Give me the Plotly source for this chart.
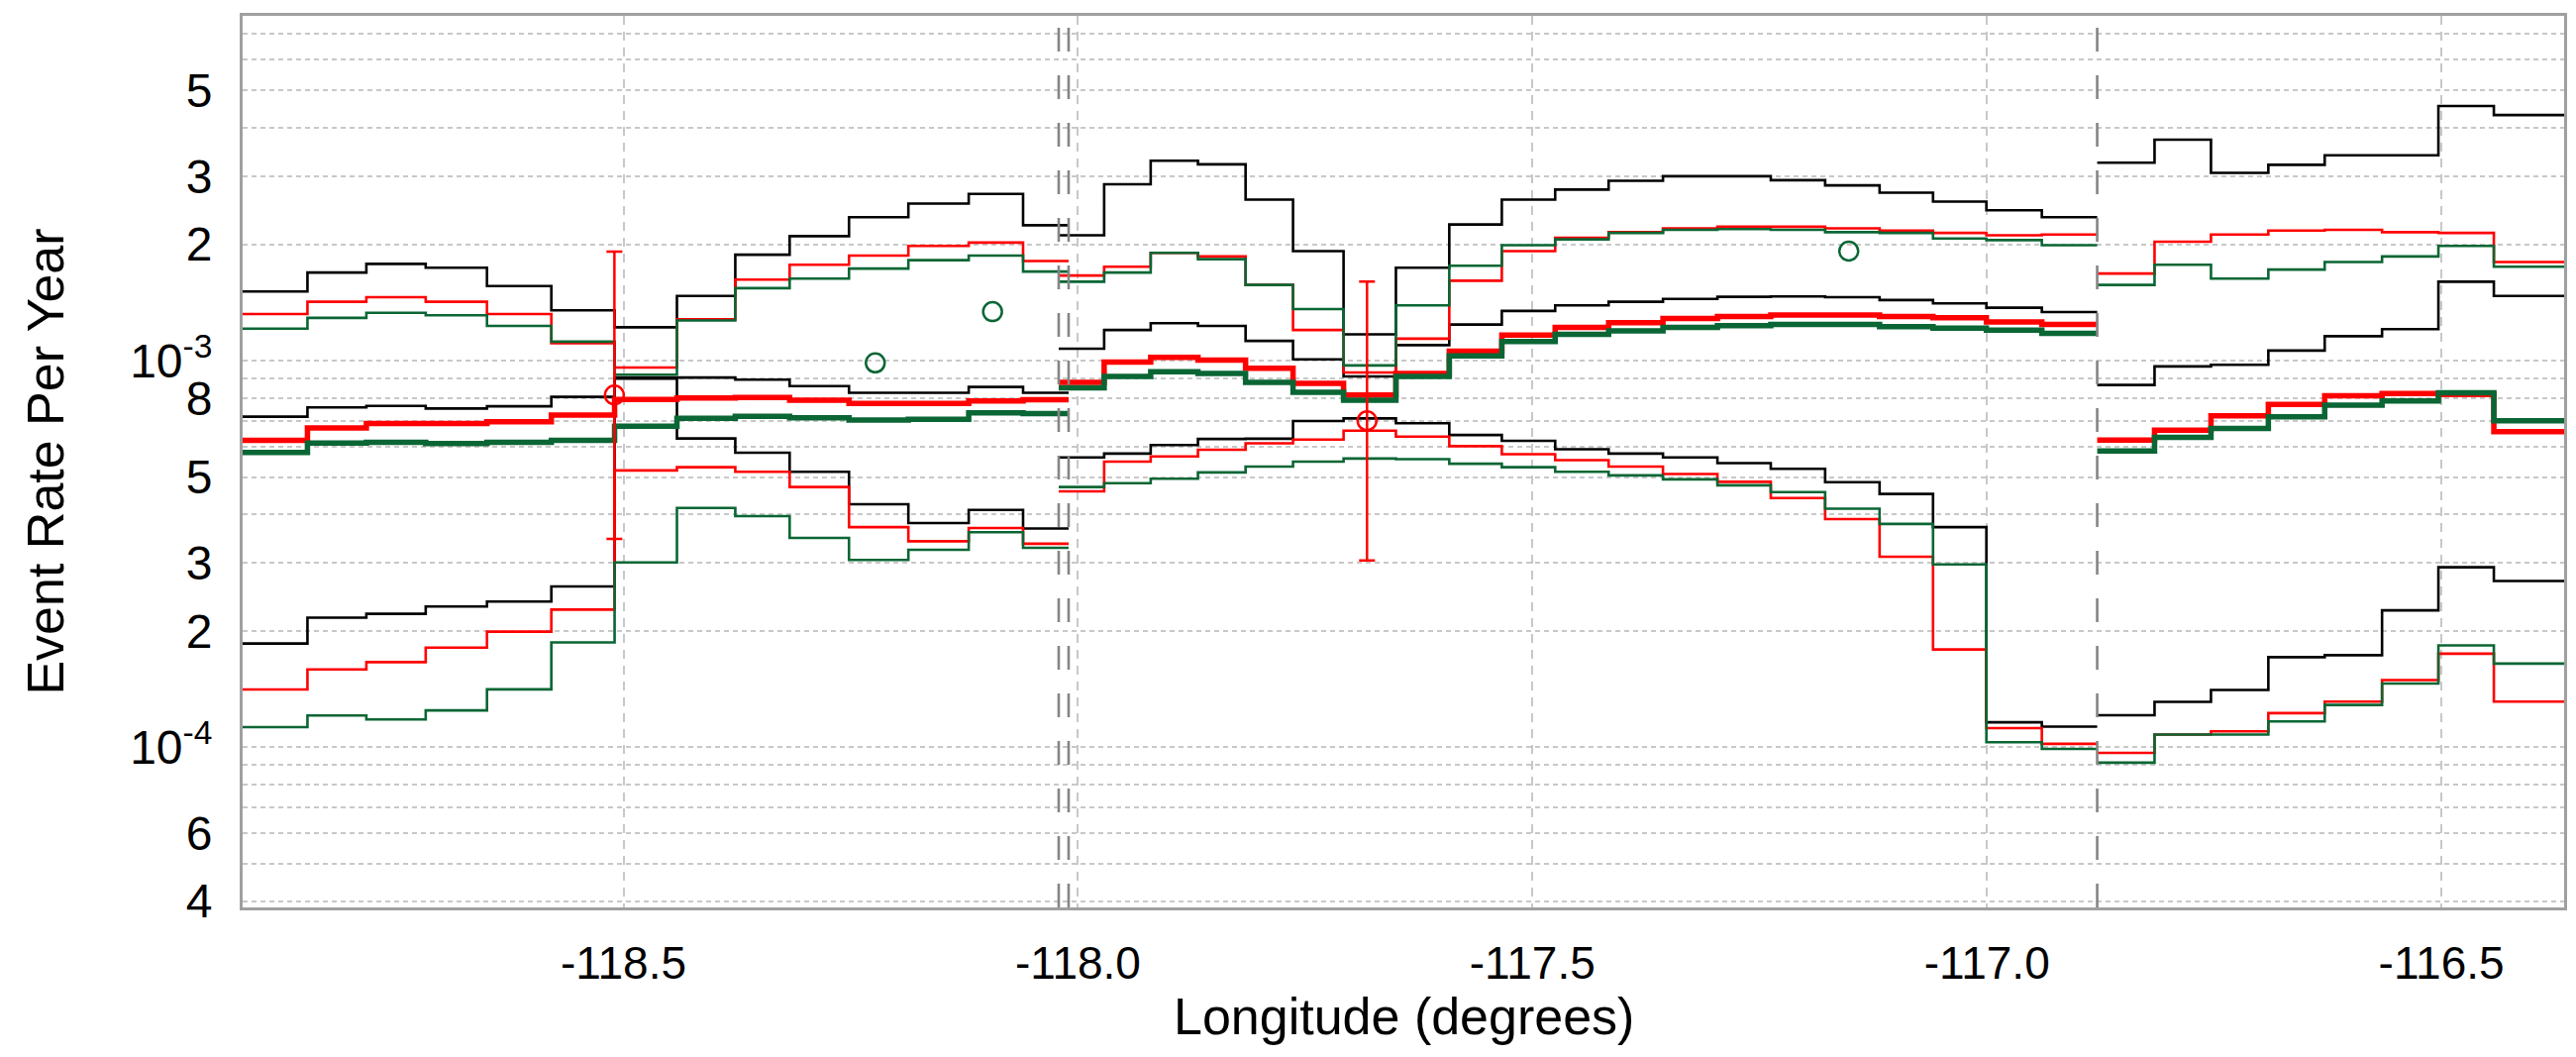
import plotly.graph_objects as go

# ---------------- data ----------------
# bin edges (longitude, degrees) for the three profile segments
seg1_edges = [-118.93, -118.8477, -118.7829, -118.7176, -118.6502, -118.5794, -118.5098,
              -118.4412, -118.3770, -118.3172, -118.2519, -118.1866, -118.1202, -118.0604, -118.0103]
seg2_edges = [-118.0212, -117.9712, -117.9200, -117.8680, -117.8156, -117.7634, -117.7078,
              -117.6502, -117.5915, -117.5337, -117.4750, -117.4162, -117.3564, -117.2965,
              -117.2378, -117.1780, -117.1181, -117.0593, -117.0006, -116.9396, -116.8787]
seg3_edges = [-116.8787, -116.8156, -116.7535, -116.6904, -116.6284, -116.5653, -116.5033,
              -116.4423, -116.35]

# segment 1 (rates per year)
s1_black_hi = [1.51e-3, 1.69e-3, 1.78e-3, 1.74e-3, 1.56e-3, 1.35e-3, 1.22e-3, 1.47e-3, 1.88e-3, 2.10e-3, 2.35e-3, 2.55e-3, 2.70e-3, 2.24e-3]
s1_red_hi   = [1.32e-3, 1.42e-3, 1.46e-3, 1.42e-3, 1.32e-3, 1.11e-3, 0.96e-3, 1.28e-3, 1.62e-3, 1.77e-3, 1.87e-3, 1.98e-3, 2.02e-3, 1.81e-3]
s1_green_hi = [1.21e-3, 1.29e-3, 1.33e-3, 1.31e-3, 1.23e-3, 1.12e-3, 0.92e-3, 1.27e-3, 1.54e-3, 1.63e-3, 1.73e-3, 1.82e-3, 1.87e-3, 1.70e-3]
s1_black_mid = [0.716e-3, 0.757e-3, 0.764e-3, 0.752e-3, 0.762e-3, 0.806e-3, 0.904e-3, 0.904e-3, 0.893e-3, 0.859e-3, 0.826e-3, 0.826e-3, 0.855e-3, 0.826e-3]
s1_red_mid   = [0.622e-3, 0.670e-3, 0.688e-3, 0.688e-3, 0.695e-3, 0.723e-3, 0.793e-3, 0.801e-3, 0.803e-3, 0.790e-3, 0.775e-3, 0.775e-3, 0.787e-3, 0.792e-3]
s1_green_mid = [0.579e-3, 0.612e-3, 0.615e-3, 0.610e-3, 0.615e-3, 0.622e-3, 0.677e-3, 0.709e-3, 0.718e-3, 0.711e-3, 0.702e-3, 0.705e-3, 0.733e-3, 0.730e-3]
s1_black_lo = [1.854e-4, 2.163e-4, 2.213e-4, 2.312e-4, 2.382e-4, 2.606e-4, 8.99e-4, 6.29e-4, 5.78e-4, 5.16e-4, 4.25e-4, 3.80e-4, 4.11e-4, 3.68e-4]
s1_red_lo   = [1.41e-4, 1.59e-4, 1.66e-4, 1.81e-4, 1.99e-4, 2.27e-4, 5.20e-4, 5.30e-4, 5.16e-4, 4.71e-4, 3.71e-4, 3.41e-4, 3.69e-4, 3.36e-4]
s1_green_lo = [1.127e-4, 1.208e-4, 1.180e-4, 1.245e-4, 1.411e-4, 1.866e-4, 3.006e-4, 4.16e-4, 3.96e-4, 3.48e-4, 3.05e-4, 3.24e-4, 3.60e-4, 3.28e-4]

# segment 2
s2_black_hi = [2.11e-3, 2.86e-3, 3.29e-3, 3.22e-3, 2.61e-3, 1.92e-3, 1.17e-3, 1.74e-3, 2.25e-3, 2.61e-3, 2.77e-3, 2.92e-3, 3.00e-3, 3.00e-3, 2.93e-3, 2.84e-3, 2.72e-3, 2.58e-3, 2.45e-3, 2.35e-3]
s2_red_hi   = [1.66e-3, 1.75e-3, 1.90e-3, 1.86e-3, 1.57e-3, 1.20e-3, 0.932e-3, 1.14e-3, 1.61e-3, 1.92e-3, 2.08e-3, 2.15e-3, 2.20e-3, 2.22e-3, 2.22e-3, 2.20e-3, 2.17e-3, 2.14e-3, 2.11e-3, 2.12e-3]
s2_green_hi = [1.60e-3, 1.69e-3, 1.90e-3, 1.83e-3, 1.57e-3, 1.36e-3, 0.972e-3, 1.39e-3, 1.76e-3, 1.99e-3, 2.06e-3, 2.14e-3, 2.18e-3, 2.19e-3, 2.18e-3, 2.15e-3, 2.14e-3, 2.07e-3, 2.05e-3, 1.99e-3]
s2_black_mid = [1.074e-3, 1.20e-3, 1.25e-3, 1.23e-3, 1.125e-3, 1.008e-3, 0.910e-3, 1.097e-3, 1.24e-3, 1.345e-3, 1.39e-3, 1.42e-3, 1.445e-3, 1.463e-3, 1.466e-3, 1.46e-3, 1.435e-3, 1.406e-3, 1.371e-3, 1.336e-3]
s2_red_mid   = [0.878e-3, 0.991e-3, 1.019e-3, 1.003e-3, 0.956e-3, 0.874e-3, 0.815e-3, 0.926e-3, 1.058e-3, 1.164e-3, 1.219e-3, 1.253e-3, 1.286e-3, 1.300e-3, 1.312e-3, 1.312e-3, 1.300e-3, 1.291e-3, 1.259e-3, 1.241e-3]
s2_green_mid = [0.851e-3, 0.910e-3, 0.936e-3, 0.926e-3, 0.878e-3, 0.828e-3, 0.790e-3, 0.910e-3, 1.029e-3, 1.120e-3, 1.169e-3, 1.194e-3, 1.219e-3, 1.232e-3, 1.240e-3, 1.240e-3, 1.224e-3, 1.214e-3, 1.199e-3, 1.177e-3]
s2_black_lo = [5.62e-4, 5.75e-4, 6.05e-4, 6.27e-4, 6.28e-4, 6.98e-4, 7.09e-4, 6.89e-4, 6.42e-4, 6.20e-4, 5.90e-4, 5.75e-4, 5.62e-4, 5.43e-4, 5.25e-4, 4.85e-4, 4.52e-4, 3.71e-4, 1.16e-4, 1.13e-4]
s2_red_lo   = [4.59e-4, 5.48e-4, 5.65e-4, 5.88e-4, 6.11e-4, 6.25e-4, 6.59e-4, 6.36e-4, 6.01e-4, 5.73e-4, 5.53e-4, 5.32e-4, 5.09e-4, 4.86e-4, 4.41e-4, 3.89e-4, 3.11e-4, 1.79e-4, 1.12e-4, 1.02e-4]
s2_green_lo = [4.71e-4, 4.82e-4, 4.95e-4, 5.14e-4, 5.32e-4, 5.48e-4, 5.58e-4, 5.56e-4, 5.41e-4, 5.30e-4, 5.16e-4, 5.05e-4, 4.93e-4, 4.76e-4, 4.57e-4, 4.14e-4, 3.78e-4, 2.97e-4, 1.03e-4, 0.99e-4]

# segment 3
s3_black_hi = [3.25e-3, 3.73e-3, 3.06e-3, 3.21e-3, 3.40e-3, 3.40e-3, 4.56e-3, 4.32e-3]
s3_red_hi   = [1.68e-3, 2.03e-3, 2.12e-3, 2.17e-3, 2.18e-3, 2.15e-3, 2.14e-3, 1.80e-3]
s3_green_hi = [1.57e-3, 1.77e-3, 1.63e-3, 1.72e-3, 1.80e-3, 1.86e-3, 1.98e-3, 1.75e-3]
s3_black_mid = [0.865e-3, 0.966e-3, 0.976e-3, 1.062e-3, 1.157e-3, 1.206e-3, 1.60e-3, 1.47e-3]
s3_red_mid   = [0.623e-3, 0.661e-3, 0.720e-3, 0.771e-3, 0.811e-3, 0.822e-3, 0.817e-3, 0.655e-3]
s3_green_mid = [0.584e-3, 0.633e-3, 0.668e-3, 0.716e-3, 0.767e-3, 0.787e-3, 0.826e-3, 0.699e-3]
s3_black_lo = [1.21e-4, 1.31e-4, 1.406e-4, 1.71e-4, 1.73e-4, 2.26e-4, 2.92e-4, 2.69e-4]
s3_red_lo   = [0.967e-4, 1.078e-4, 1.099e-4, 1.225e-4, 1.312e-4, 1.491e-4, 1.745e-4, 1.312e-4]
s3_green_lo = [0.912e-4, 1.078e-4, 1.078e-4, 1.166e-4, 1.286e-4, 1.461e-4, 1.834e-4, 1.645e-4]

# observed rates (red, with error bars) and other observations (green)
obs_red_lon = [-118.510, -117.682]
obs_red_rate = [0.815e-3, 0.699e-3]
obs_red_upper = [1.915e-3, 1.602e-3]
obs_red_lower = [0.346e-3, 0.304e-3]
obs_green_lon = [-118.223, -118.094, -117.152]
obs_green_rate = [0.987e-3, 1.339e-3, 1.92e-3]

# segment boundaries (longitude)
boundaries = [-118.0212, -118.0103, -116.8787]

# axis ticks
x_ticks = [-118.5, -118.0, -117.5, -117.0, -116.5]
x_ticktext = ["-118.5", "-118.0", "-117.5", "-117.0", "-116.5"]
y_ticks = [4e-5, 6e-5, 1e-4, 2e-4, 3e-4, 5e-4, 8e-4, 1e-3, 2e-3, 3e-3, 5e-3]
y_ticktext = ["4", "6", "10<sup>-4</sup>", "2", "3", "5", "8", "10<sup>-3</sup>", "2", "3", "5"]
y_minor = [5e-5, 7e-5, 8e-5, 9e-5, 4e-4, 6e-4, 7e-4, 9e-4, 4e-3, 6e-3, 7e-3]

x_title = "Longitude (degrees)"
y_title = "Event Rate Per Year"

# ---------------- figure ----------------
RED = "#ff0000"
GREEN = "#0a6634"
BLACK = "#000000"
THIN = 2.6
THICK = 5.5

fig = go.Figure()


def step(edges, vals, color, width):
    fig.add_trace(go.Scatter(
        x=edges, y=list(vals) + [vals[-1]], mode="lines",
        line=dict(color=color, width=width, shape="hv"),
        showlegend=False, hoverinfo="skip"))


segments = [
    (seg1_edges, s1_black_hi, s1_black_mid, s1_black_lo, s1_red_hi, s1_red_mid, s1_red_lo,
     s1_green_hi, s1_green_mid, s1_green_lo),
    (seg2_edges, s2_black_hi, s2_black_mid, s2_black_lo, s2_red_hi, s2_red_mid, s2_red_lo,
     s2_green_hi, s2_green_mid, s2_green_lo),
    (seg3_edges, s3_black_hi, s3_black_mid, s3_black_lo, s3_red_hi, s3_red_mid, s3_red_lo,
     s3_green_hi, s3_green_mid, s3_green_lo),
]

for (e, bh, bm, bl, rh, rm, rl, gh, gm, gl) in segments:
    step(e, bh, BLACK, THIN)
    step(e, bm, BLACK, THIN)
    step(e, bl, BLACK, THIN)
    step(e, rh, RED, THIN)
    step(e, rl, RED, THIN)
    step(e, gh, GREEN, THIN)
    step(e, gl, GREEN, THIN)
    step(e, rm, RED, THICK)
    step(e, gm, GREEN, THICK)

fig.add_trace(go.Scatter(
    x=obs_red_lon, y=obs_red_rate, mode="markers",
    marker=dict(symbol="circle-open", size=19, color=RED, line=dict(width=2.5, color=RED)),
    error_y=dict(type="data", symmetric=False,
                 array=[u - r for u, r in zip(obs_red_upper, obs_red_rate)],
                 arrayminus=[r - l for r, l in zip(obs_red_rate, obs_red_lower)],
                 color=RED, thickness=2.5, width=8),
    showlegend=False, hoverinfo="skip"))

fig.add_trace(go.Scatter(
    x=obs_green_lon, y=obs_green_rate, mode="markers",
    marker=dict(symbol="circle-open", size=19, color=GREEN, line=dict(width=2.5, color=GREEN)),
    showlegend=False, hoverinfo="skip"))

for b in boundaries:
    fig.add_shape(type="line", x0=b, x1=b, y0=0, y1=1, xref="x", yref="paper",
                  line=dict(color="#858585", width=2.6, dash="24px,24px"), layer="above")

FONT = "Liberation Sans, Arial, sans-serif"
GRID = "#c8c8c8"

fig.add_annotation(text=x_title, xref="paper", yref="paper", x=0.5, y=-0.122,
                   xanchor="center", yanchor="middle", showarrow=False,
                   font=dict(size=52, family=FONT, color="black"))

fig.update_layout(
    width=2601, height=1067,
    margin=dict(l=245, r=9, t=16, b=151),
    paper_bgcolor="white", plot_bgcolor="white",
    font=dict(family=FONT, color="black"),
    xaxis=dict(
        range=[-118.919, -116.365],
        tickvals=x_ticks, ticktext=x_ticktext,
        tickfont=dict(size=46, family=FONT),
        ticks="", showgrid=True, gridcolor=GRID, gridwidth=1.5, griddash="9px,7px",
        showline=True, linecolor="#a0a0a0", linewidth=3, mirror=True,
        zeroline=False, ticklabelstandoff=14,
    ),
    yaxis=dict(
        type="log",
        range=[-4.4145, -2.108],
        tickvals=y_ticks, ticktext=y_ticktext,
        tickfont=dict(size=48, family=FONT),
        ticks="", showgrid=True, gridcolor=GRID, gridwidth=1.5, griddash="5px,4px",
        minor=dict(tickvals=y_minor, showgrid=True, gridcolor=GRID, gridwidth=1.5,
                   griddash="5px,4px", ticks=""),
        showline=True, linecolor="#a0a0a0", linewidth=3, mirror=True,
        zeroline=False, ticklabelstandoff=18,
        title=dict(text=y_title, font=dict(size=52, family=FONT), standoff=50),
    ),
)

fig.write_html("out.html", config={"displayModeBar": False},
               post_script="document.body.style.margin='0';document.body.style.overflow='hidden';")
